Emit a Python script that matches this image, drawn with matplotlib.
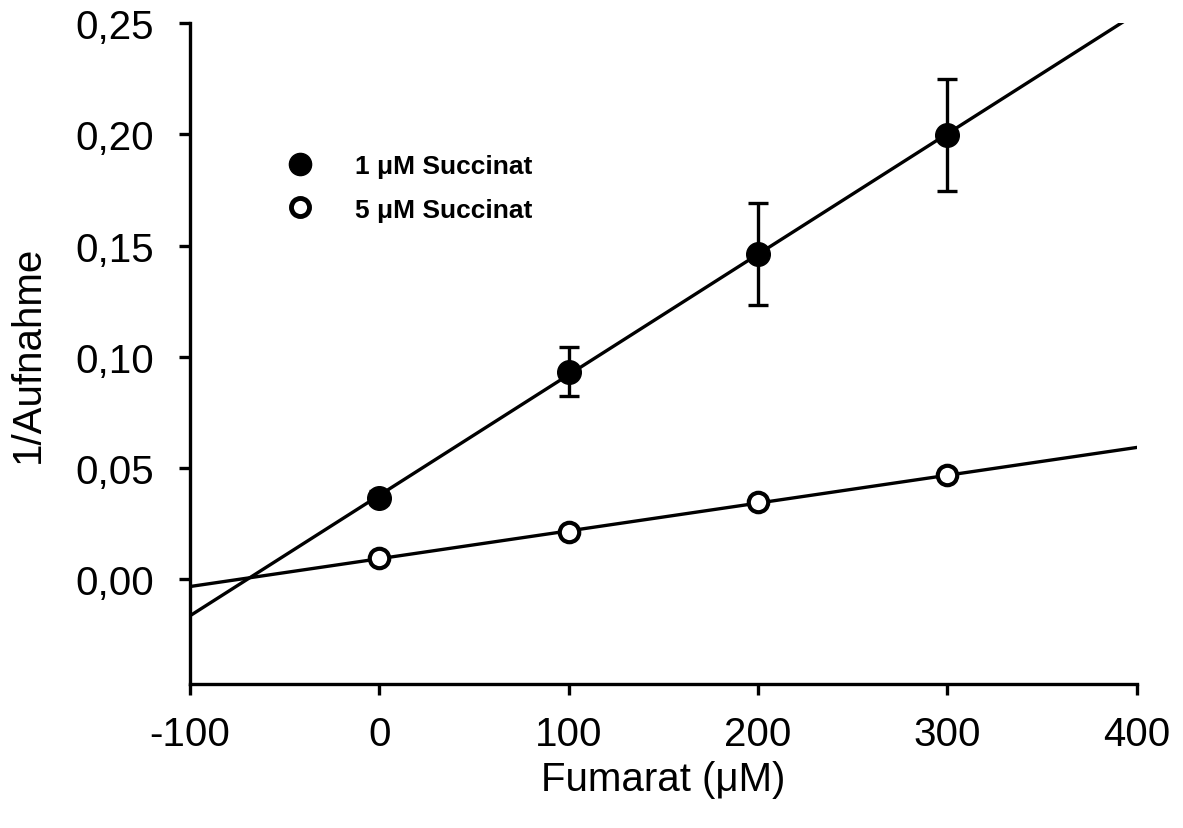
import numpy as np
import matplotlib
matplotlib.use("Agg")
import matplotlib.pyplot as plt
from matplotlib.lines import Line2D

plt.rcParams['font.family'] = ['Liberation Sans', 'DejaVu Sans']
plt.rcParams['axes.unicode_minus'] = False

fumarat = [0, 100, 200, 300]
succ1 = [0.0368, 0.0934, 0.1463, 0.1997]
succ1_err = [0.003, 0.011, 0.023, 0.025]
succ5 = [0.0094, 0.0215, 0.0346, 0.0467]
xticks = [-100, 0, 100, 200, 300, 400]
yticks = [0.00, 0.05, 0.10, 0.15, 0.20, 0.25]
labels = ['1 \u03bcM Succinat', '5 \u03bcM Succinat']

fig = plt.figure(figsize=(11.83, 8.29), dpi=100)
ax = fig.add_axes([0.1606, 0.1737, 0.8004, 0.7973])

xl = np.array([-100, 400])
for y in (succ1, succ5):
    p = np.polyfit(fumarat, y, 1)
    ax.plot(xl, np.polyval(p, xl), color='black', lw=2.4, zorder=2)

ax.errorbar(fumarat, succ1, yerr=succ1_err, fmt='o', color='black', ms=17,
            capsize=7, elinewidth=2.4, capthick=2.4, zorder=3)
ax.plot(fumarat, succ5, 'o', mfc='white', mec='black', mew=3, ms=14, zorder=4)

ax.set_xlim(-100, 400)
ax.set_ylim(-0.047, 0.25)
ax.set_xticks(xticks)
ax.set_yticks(yticks)
ax.set_xticklabels([str(v) for v in xticks])
ax.set_yticklabels([f"{v:.2f}".replace('.', ',') for v in yticks])
ax.tick_params(direction='out', length=8, width=2.4, labelsize=29)
ax.tick_params(axis='y', pad=18)
ax.tick_params(axis='x', pad=14)
for s in ('top', 'right'):
    ax.spines[s].set_visible(False)
for s in ('left', 'bottom'):
    ax.spines[s].set_linewidth(2.4)

ax.set_xlabel('Fumarat (\u03bcM)', fontsize=29, labelpad=5)
ax.set_ylabel('1/Aufnahme', fontsize=29, labelpad=20)

handles = [Line2D([], [], ls='none', marker='o', color='black', ms=16),
           Line2D([], [], ls='none', marker='o', mfc='white', mec='black', mew=3.5, ms=13)]
ax.legend(handles, labels, loc='upper left', bbox_to_anchor=(0.074, 0.838), frameon=False,
          prop={'weight': 'bold', 'size': 19}, handletextpad=1.5,
          labelspacing=0.75, handlelength=1.2)

fig.savefig('out.png', dpi=100)
